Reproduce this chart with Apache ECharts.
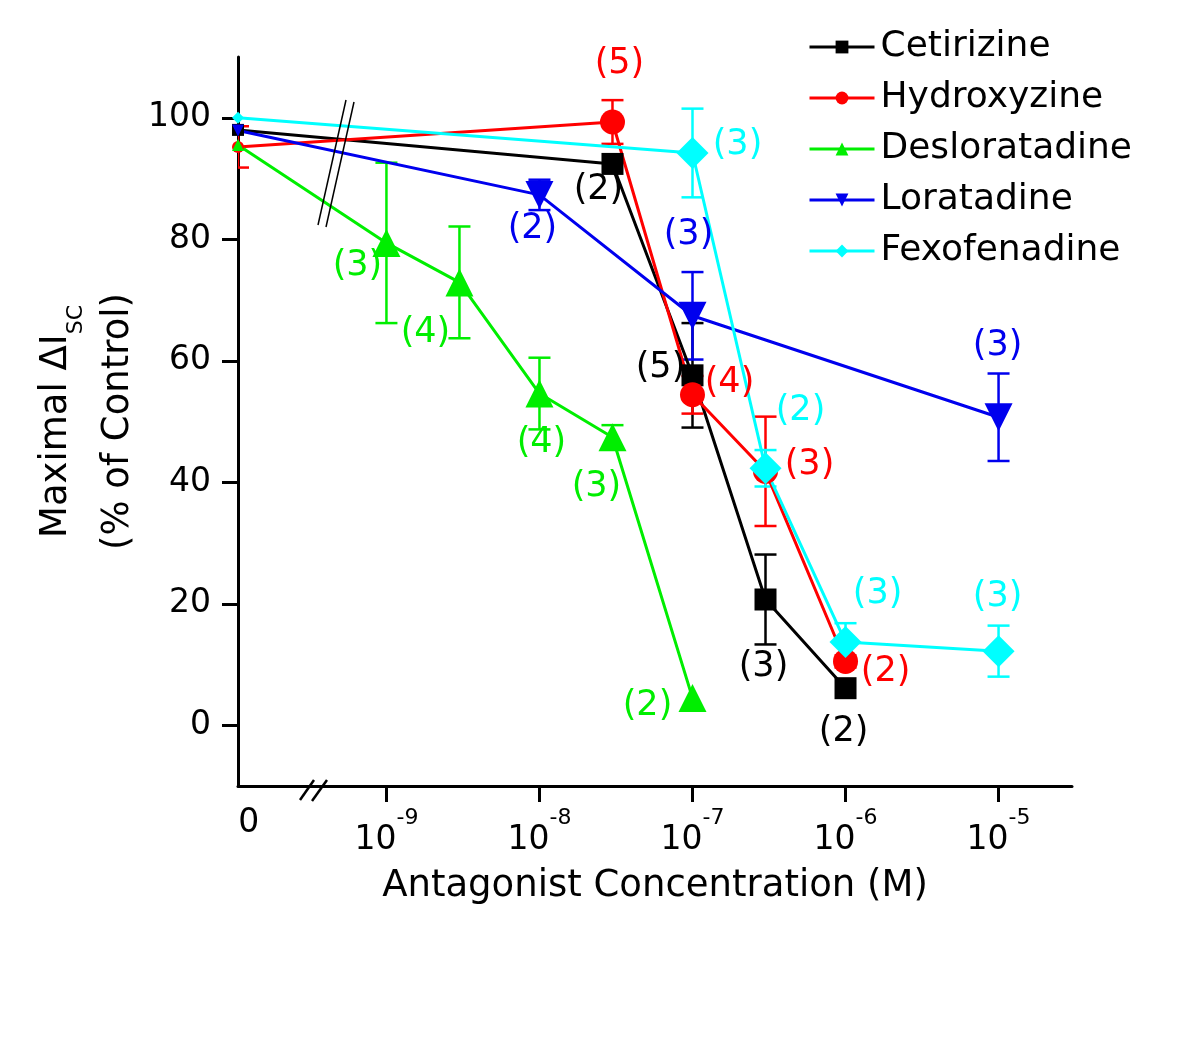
<!DOCTYPE html>
<html>
<head>
<meta charset="utf-8">
<script src="https://cdn.jsdelivr.net/npm/echarts@6/dist/echarts.min.js"></script>
<style>
  html, body { margin: 0; padding: 0; background: #ffffff; }
  #chart { width: 1200px; height: 1041px; }
</style>
</head>
<body>
<div id="chart"></div>
<script>
// ---------------- data ----------------
// concentrations in M (0 = no antagonist, drawn left of the axis break)
const cetConc = [0, 3e-8, 1e-7, 3e-7, 1e-6];
const cetMean = [98.0, 92.4, 57.6, 20.7, 6.1];
const cetErr  = [0, 0, 8.6, 7.4, 0];
const cetN    = ['', '(2)', '(5)', '(3)', '(2)'];

const hydConc = [0, 3e-8, 1e-7, 3e-7, 1e-6];
const hydMean = [95.2, 99.3, 54.4, 41.8, 10.5];
const hydErr  = [3.4, 3.6, 3.1, 9.0, 1.0];
const hydN    = ['', '(5)', '(4)', '(3)', '(2)'];

const desConc = [0, 1e-9, 3e-9, 1e-8, 3e-8, 1e-7];
const desMean = [95.5, 79.4, 72.9, 54.6, 47.4, 4.5];
const desErr  = [0, 13.2, 9.2, 5.9, 2.0, 0];
const desN    = ['', '(3)', '(4)', '(4)', '(3)', '(2)'];

const lorConc = [0, 1e-8, 1e-7, 1e-5];
const lorMean = [97.9, 87.3, 67.4, 50.7];
const lorErr  = [0, 2.5, 7.2, 7.2];
const lorN    = ['', '(2)', '(3)', '(3)'];

const fexConc = [0, 1e-7, 3e-7, 1e-6, 1e-5];
const fexMean = [100.0, 94.2, 42.3, 13.7, 12.2];
const fexErr  = [0, 7.3, 3.0, 3.1, 4.2];
const fexN    = ['', '(3)', '(2)', '(3)', '(3)'];

const xTickExponents = [-9, -8, -7, -6, -5];
const yTicks = [0, 20, 40, 60, 80, 100];

// ---------------- style (label offsets in px, relative to the point) ----------------
const cetOff = [[0,0], [-14,26], [-32,-7], [-2,67], [-2,44]];
const hydOff = [[0,0], [7,-58], [37,-12], [44,-6], [40,10]];
const desOff = [[0,0], [-29,23], [-34,51], [2,49], [-16,50], [-45,8]];
const lorOff = [[0,0], [-7,34], [-4,-81], [-1,-71]];
const fexOff = [[0,0], [45,-8], [35,-57], [32,-48], [-1,-54]];

const FONT = 'DejaVu Sans';
const X_MIN = -9.97, X_MAX = -4.52;
const X_ZERO = X_MIN;          // axis position used for concentration 0
const xOf = c => c === 0 ? X_ZERO : Math.log10(c);

const drugs = [
  { name: 'Cetirizine',    color: '#000000', symbol: 'rect',     size: 22, conc: cetConc, mean: cetMean, err: cetErr, n: cetN, off: cetOff },
  { name: 'Hydroxyzine',   color: '#ff0000', symbol: 'circle',   size: 25, conc: hydConc, mean: hydMean, err: hydErr, n: hydN, off: hydOff },
  { name: 'Desloratadine', color: '#00ee00', symbol: 'triangle', size: 28, conc: desConc, mean: desMean, err: desErr, n: desN, off: desOff },
  { name: 'Loratadine',    color: '#0000ee', symbol: 'path://M0,0 L10,0 L5,9 Z', size: 28, conc: lorConc, mean: lorMean, err: lorErr, n: lorN, off: lorOff },
  { name: 'Fexofenadine',  color: '#00ffff', symbol: 'diamond',  size: 32, conc: fexConc, mean: fexMean, err: fexErr, n: fexN, off: fexOff }
];

const series = [];
drugs.forEach(d => {
  // error bars
  const ebData = [];
  d.conc.forEach((c, i) => {
    if (d.err[i] > 0) ebData.push([xOf(c), d.mean[i] - d.err[i], d.mean[i] + d.err[i]]);
  });
  series.push({
    type: 'custom',
    name: d.name + ' err',
    clip: true,
    z: 3,
    silent: true,
    data: ebData,
    renderItem: function (params, api) {
      const x = api.value(0);
      const lo = api.coord([x, api.value(1)]);
      const hi = api.coord([x, api.value(2)]);
      const left = params.coordSys.x;
      const hw = 11;
      const st = { stroke: d.color, lineWidth: 2.5 };
      const xl = Math.max(left, lo[0] - hw);
      return {
        type: 'group',
        children: [
          { type: 'line', shape: { x1: lo[0], y1: lo[1], x2: hi[0], y2: hi[1] }, style: st },
          { type: 'line', shape: { x1: xl, y1: lo[1], x2: lo[0] + hw, y2: lo[1] }, style: st },
          { type: 'line', shape: { x1: xl, y1: hi[1], x2: hi[0] + hw, y2: hi[1] }, style: st }
        ]
      };
    }
  });
  // line + markers + n labels
  series.push({
    type: 'line',
    name: d.name,
    z: 4,
    clip: true,
    symbol: d.symbol,
    symbolSize: d.size,
    color: d.color,
    lineStyle: { color: d.color, width: 3 },
    itemStyle: { color: d.color },
    data: d.conc.map((c, i) => ({
      value: [xOf(c), d.mean[i]],
      symbolSize: c === 0 ? 12 : d.size,
      label: {
        show: d.n[i] !== '',
        position: 'inside',
        offset: d.off[i],
        formatter: d.n[i],
        color: d.color,
        fontFamily: FONT,
        fontSize: 35
      }
    }))
  });
});

const chart = echarts.init(document.getElementById('chart'), null, { renderer: 'canvas' });
chart.setOption({
  animation: false,
  backgroundColor: '#ffffff',
  textStyle: { fontFamily: FONT },
  grid: { left: 238, right: 128, top: 57, bottom: 255, containLabel: false },
  legend: {
    orient: 'vertical',
    left: 803,
    top: 22,
    itemWidth: 65,
    itemHeight: 16,
    itemGap: 11,
    data: drugs.map(d => d.name),
    lineStyle: { width: 3 },
    textStyle: { fontFamily: FONT, fontSize: 36, lineHeight: 40, color: '#000', padding: [0, 0, 0, 1] }
  },
  xAxis: {
    type: 'value',
    min: X_MIN,
    max: X_MAX,
    name: 'Antagonist Concentration (M)',
    nameLocation: 'middle',
    nameGap: 82,
    nameTextStyle: { fontFamily: FONT, fontSize: 37, color: '#000' },
    axisLine: { onZero: false, lineStyle: { color: '#000', width: 3 } },
    axisTick: { customValues: xTickExponents, length: 16, lineStyle: { color: '#000', width: 3 } },
    splitLine: { show: false },
    axisLabel: {
      customValues: [-9.9].concat(xTickExponents),
      margin: 21,
      color: '#000',
      formatter: v => v < -9.5 ? '{z|0}' : '{b|10}{s|' + Math.round(v) + '}',
      rich: {
        z: { fontFamily: FONT, fontSize: 33, lineHeight: 50, verticalAlign: 'top', color: '#000' },
        b: { fontFamily: FONT, fontSize: 33, lineHeight: 50, verticalAlign: 'bottom', color: '#000' },
        s: { fontFamily: FONT, fontSize: 22, lineHeight: 50, verticalAlign: 'top', color: '#000' }
      }
    }
  },
  yAxis: {
    type: 'value',
    min: -10,
    max: 110,
    name: '{a|Maximal ΔI}{sub|SC}\n{a|(% of Control)}',
    nameLocation: 'middle',
    nameRotate: 90,
    nameGap: 85,
    nameTextStyle: {
      color: '#000',
      rich: {
        a: { fontFamily: FONT, fontSize: 37, lineHeight: 62, color: '#000' },
        sub: { fontFamily: FONT, fontSize: 22, lineHeight: 36, verticalAlign: 'bottom', color: '#000' }
      }
    },
    axisLine: { onZero: false, lineStyle: { color: '#000', width: 3 } },
    axisTick: { customValues: yTicks, length: 16, lineStyle: { color: '#000', width: 3 } },
    splitLine: { show: false },
    axisLabel: { customValues: yTicks, margin: 27, fontFamily: FONT, fontSize: 33, color: '#000' }
  },
  graphic: [
    // axis break marks on the x axis
    { type: 'line', z: 10, shape: { x1: 300, y1: 800, x2: 314, y2: 780 }, style: { stroke: '#000', lineWidth: 2.5 } },
    { type: 'line', z: 10, shape: { x1: 312, y1: 801, x2: 327, y2: 780 }, style: { stroke: '#000', lineWidth: 2.5 } },
    // break marks across the data lines
    { type: 'line', z: 10, shape: { x1: 318, y1: 225, x2: 346, y2: 100 }, style: { stroke: '#000', lineWidth: 1.5 } },
    { type: 'line', z: 10, shape: { x1: 326, y1: 227, x2: 354, y2: 102 }, style: { stroke: '#000', lineWidth: 1.5 } }
  ],
  series: series
});
</script>
</body>
</html>
